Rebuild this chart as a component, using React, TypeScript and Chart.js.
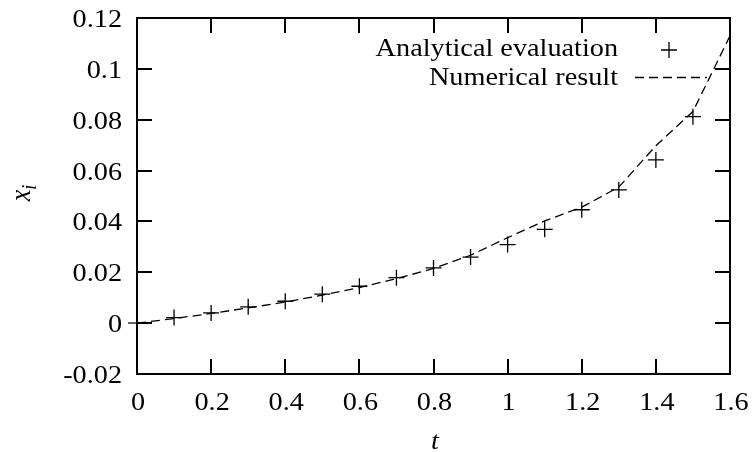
import React, { useEffect, useRef } from "react";
import { Chart, registerables } from "chart.js";

Chart.register(...registerables);

const tAnalytical = [0.1, 0.2, 0.3, 0.4, 0.5, 0.6, 0.7, 0.8, 0.9, 1.0, 1.1, 1.2, 1.3, 1.4, 1.5];
const xAnalytical = [0.0022, 0.004, 0.0064, 0.0086, 0.0114, 0.0145, 0.0179, 0.0217, 0.026, 0.0309, 0.0369, 0.0446, 0.0524, 0.0642, 0.0812];

const tNumerical = [0, 0.1, 0.2, 0.3, 0.4, 0.5, 0.6, 0.7, 0.8, 0.9, 1.0, 1.1, 1.2, 1.3, 1.4, 1.5, 1.6];
const xNumerical = [0, 0.0018, 0.0038, 0.006, 0.0083, 0.011, 0.014, 0.0175, 0.0215, 0.0267, 0.0336, 0.0402, 0.0456, 0.0535, 0.0698, 0.0832, 0.113];

const xTicks = [0, 0.2, 0.4, 0.6, 0.8, 1.0, 1.2, 1.4, 1.6];
const xTickLabels = ["0", "0.2", "0.4", "0.6", "0.8", "1", "1.2", "1.4", "1.6"];
const yTicks = [-0.02, 0, 0.02, 0.04, 0.06, 0.08, 0.1, 0.12];
const yTickLabels = ["-0.02", "0", "0.02", "0.04", "0.06", "0.08", "0.1", "0.12"];

const legendLabels = ["Analytical evaluation", "Numerical result"];
const xTitle = "t";
const yTitleMain = "x";
const yTitleSub = "i";

const FONT = "'Liberation Serif', 'Times New Roman', serif";
const HS = 1.13; // horizontal glyph stretch of the reference

function stretchedText(
  ctx: CanvasRenderingContext2D,
  text: string,
  x: number,
  y: number,
  align: CanvasTextAlign
) {
  ctx.save();
  ctx.translate(x, y);
  ctx.scale(HS, 1);
  ctx.textAlign = align;
  ctx.textBaseline = "alphabetic";
  ctx.fillText(text, 0, 0);
  ctx.restore();
}

const framePlugin = {
  id: "frame",
  afterDraw(chart: any) {
    const ctx = chart.ctx as CanvasRenderingContext2D;
    const { left, right, top, bottom } = chart.chartArea;
    const xs = chart.scales.x;
    const ys = chart.scales.y;
    ctx.save();
    ctx.strokeStyle = "#000";
    ctx.fillStyle = "#000";
    ctx.lineWidth = 2;
    ctx.lineCap = "butt";
    ctx.strokeRect(left, top, right - left, bottom - top);
    const tl = 15;
    ctx.beginPath();
    xTicks.forEach((v) => {
      const px = Math.round(xs.getPixelForValue(v));
      ctx.moveTo(px, bottom);
      ctx.lineTo(px, bottom - tl);
      ctx.moveTo(px, top);
      ctx.lineTo(px, top + tl);
    });
    yTicks.forEach((v) => {
      const py = Math.round(ys.getPixelForValue(v));
      ctx.moveTo(left, py);
      ctx.lineTo(left + tl, py);
      ctx.moveTo(right, py);
      ctx.lineTo(right - tl, py);
    });
    ctx.stroke();
    // small zero line stub to the left
    const y0 = Math.round(ys.getPixelForValue(0));
    ctx.lineWidth = 1.2;
    ctx.beginPath();
    ctx.moveTo(left - 9, y0);
    ctx.lineTo(left, y0);
    ctx.stroke();

    // Tick labels
    ctx.font = `25px ${FONT}`;
    yTicks.forEach((v, i) => {
      const py = ys.getPixelForValue(v);
      stretchedText(ctx, yTickLabels[i], 122, py + 9, "right");
    });
    xTicks.forEach((v, i) => {
      const px = xs.getPixelForValue(v);
      stretchedText(ctx, xTickLabels[i], px + 1, 410, "center");
    });

    // Legend
    ctx.font = `25px ${FONT}`;
    stretchedText(ctx, legendLabels[0], 618, 56, "right");
    stretchedText(ctx, legendLabels[1], 618, 84.5, "right");
    // cross sample
    ctx.lineWidth = 1.3;
    ctx.beginPath();
    ctx.moveTo(669 - 8, 50);
    ctx.lineTo(669 + 8, 50);
    ctx.moveTo(669, 50 - 8);
    ctx.lineTo(669, 50 + 8);
    ctx.stroke();
    // dashed sample
    ctx.setLineDash([9, 5]);
    ctx.beginPath();
    ctx.moveTo(635, 77.5);
    ctx.lineTo(707, 77.5);
    ctx.stroke();
    ctx.setLineDash([]);

    // X title
    ctx.font = `italic 25px ${FONT}`;
    stretchedText(ctx, xTitle, 435, 449, "center");

    // Y title
    ctx.translate(30, 193);
    ctx.rotate(-Math.PI / 2);
    ctx.scale(1, HS);
    ctx.textAlign = "left";
    ctx.textBaseline = "alphabetic";
    ctx.font = `italic 26px ${FONT}`;
    const wMain = ctx.measureText(yTitleMain).width;
    ctx.font = `italic 18px ${FONT}`;
    const wSub = ctx.measureText(yTitleSub).width;
    const total = wMain + wSub;
    ctx.font = `italic 26px ${FONT}`;
    ctx.fillText(yTitleMain, -total / 2, 0);
    ctx.font = `italic 18px ${FONT}`;
    ctx.fillText(yTitleSub, -total / 2 + wMain, 5);
    ctx.restore();
  },
};

export default function App() {
  const ref = useRef<HTMLCanvasElement | null>(null);
  useEffect(() => {
    if (!ref.current) return;
    const chart = new Chart(ref.current, {
      type: "scatter",
      data: {
        datasets: [
          {
            label: legendLabels[1],
            data: tNumerical.map((t, i) => ({ x: t, y: xNumerical[i] })),
            showLine: true,
            borderColor: "#000",
            borderWidth: 1.3,
            borderDash: [9, 5],
            pointRadius: 0,
            fill: false,
            tension: 0,
          },
          {
            label: legendLabels[0],
            data: tAnalytical.map((t, i) => ({ x: t, y: xAnalytical[i] })),
            showLine: false,
            pointStyle: "cross",
            pointRadius: 8,
            borderColor: "#000",
            backgroundColor: "#000",
            pointBorderWidth: 1.3,
          } as any,
        ],
      },
      options: {
        responsive: false,
        animation: false,
        devicePixelRatio: 1,
        layout: { padding: { left: 0, top: 18, right: 24, bottom: 0 } },
        plugins: { legend: { display: false }, tooltip: { enabled: false } },
        scales: {
          x: {
            type: "linear",
            min: 0,
            max: 1.6,
            grid: { display: false, drawTicks: false },
            border: { display: false },
            afterBuildTicks: (s: any) => {
              s.ticks = xTicks.map((v) => ({ value: v }));
            },
            afterFit: (s: any) => {
              s.height = 78;
            },
            ticks: { display: false },
          },
          y: {
            type: "linear",
            min: -0.02,
            max: 0.12,
            grid: { display: false, drawTicks: false },
            border: { display: false },
            afterBuildTicks: (s: any) => {
              s.ticks = yTicks.map((v) => ({ value: v }));
            },
            afterFit: (s: any) => {
              s.width = 137;
            },
            ticks: { display: false },
          },
        },
      } as any,
      plugins: [framePlugin],
    });
    return () => chart.destroy();
  }, []);
  return (
    <div style={{ position: "absolute", left: 0, top: 0, width: 754, height: 452, background: "#fff" }}>
      <canvas ref={ref} width={754} height={452} style={{ width: 754, height: 452 }} />
    </div>
  );
}
